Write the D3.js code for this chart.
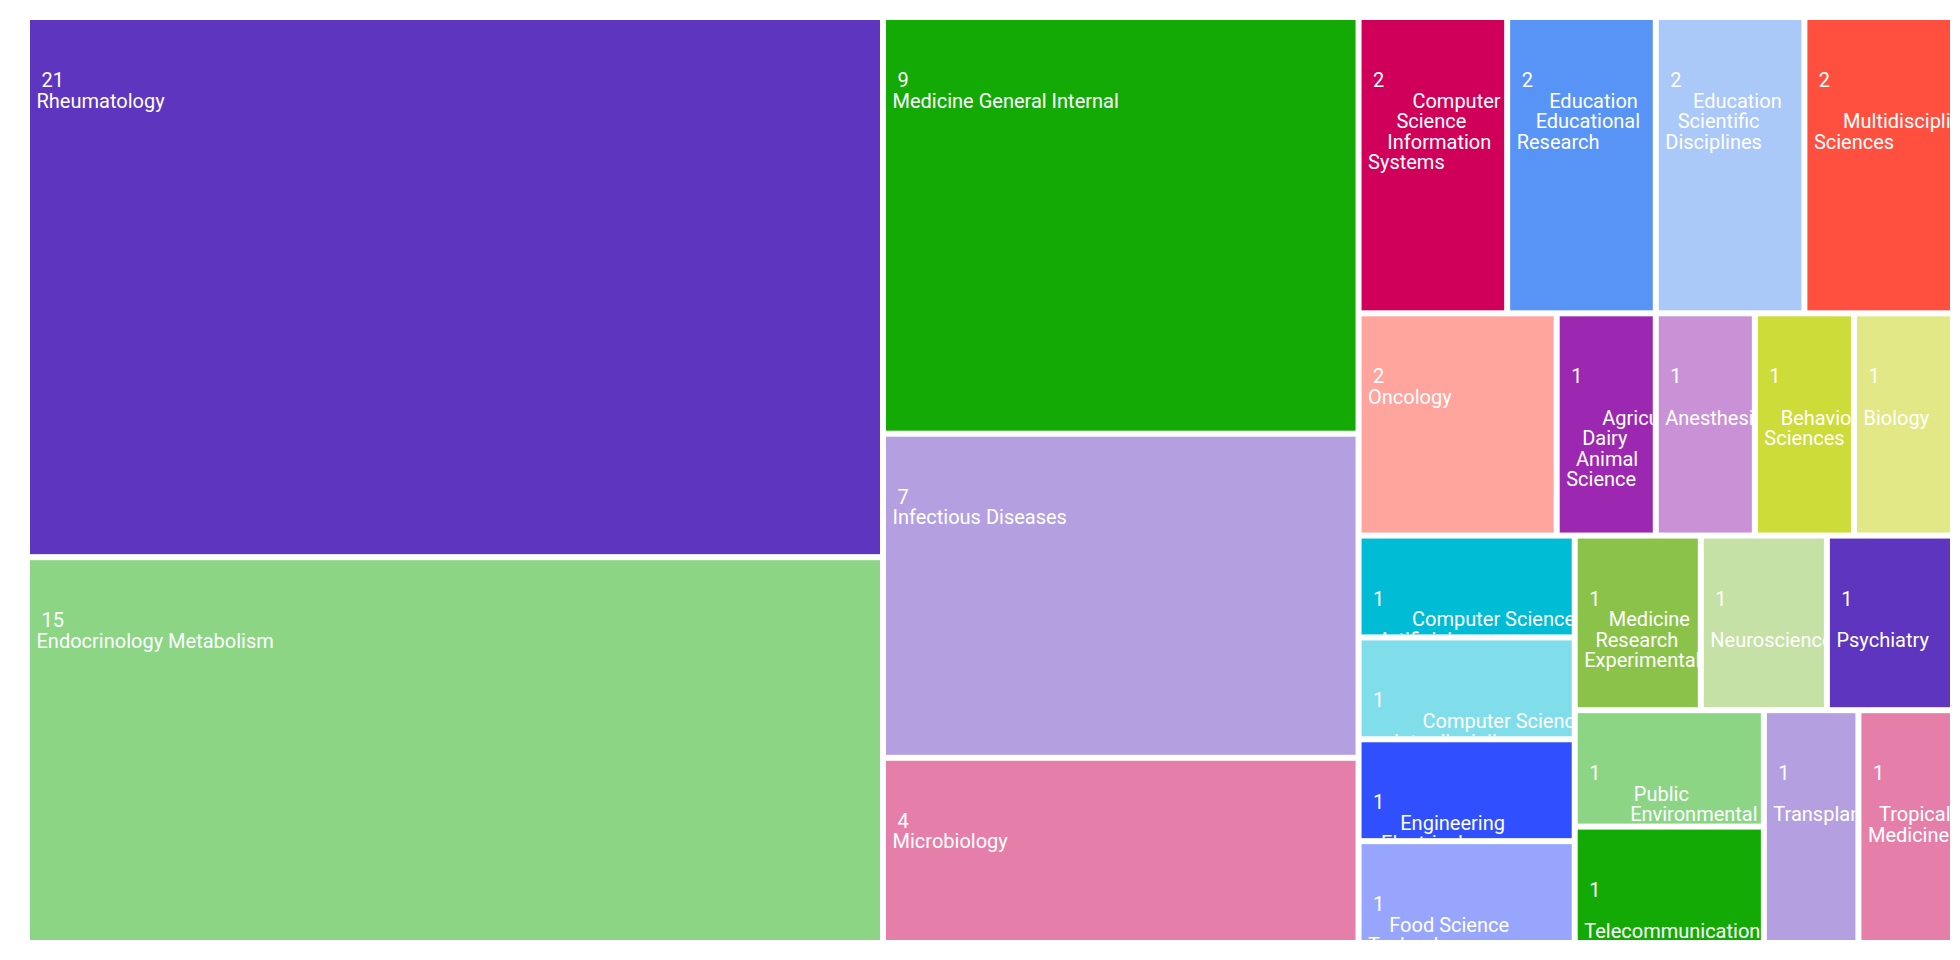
<!DOCTYPE html>
<html>
<head>
<meta charset="utf-8">
<script src="https://cdn.jsdelivr.net/npm/d3@7"></script>
<style>
  html, body { margin: 0; padding: 0; background: #ffffff; }
  svg { display: block; font-family: Roboto, "Noto Sans", sans-serif; }
</style>
</head>
<body>
<svg id="chart" width="1960" height="960"></svg>
<script>
// ---- data ----
const categories = [
  "Rheumatology",
  "Endocrinology Metabolism",
  "Medicine General Internal",
  "Infectious Diseases",
  "Microbiology",
  "Computer Science Information Systems",
  "Education Educational Research",
  "Education Scientific Disciplines",
  "Multidisciplinary Sciences",
  "Oncology",
  "Agriculture Dairy Animal Science",
  "Anesthesiology",
  "Behavioral Sciences",
  "Biology",
  "Computer Science Artificial Intelligence",
  "Computer Science Interdisciplinary Applications",
  "Engineering Electrical Electronic",
  "Food Science Technology",
  "Medicine Research Experimental",
  "Neurosciences",
  "Psychiatry",
  "Public Environmental Occupational Health",
  "Telecommunications",
  "Transplantation",
  "Tropical Medicine"
];
const values = [21, 15, 9, 7, 4, 2, 2, 2, 2, 2, 1, 1, 1, 1, 1, 1, 1, 1, 1, 1, 1, 1, 1, 1, 1];
const palette = [
  "#5e35be", "#8bd585", "#14aa06", "#b4a0e0", "#e57faa",
  "#d0005a", "#5894f5", "#aac8f8", "#ff4f3f", "#ffa59e",
  "#9c27b0", "#ca92d6", "#cddc39", "#e2e886", "#00bcd4",
  "#80deea", "#304ffe", "#97a6fc", "#8bc34a", "#c5e1a5"
];

// ---- layout ----
const margin = { left: 30, top: 20 };
const W = 1920, H = 920;
const fontSize = 20, pad = 6.5, numberY = 67, lineStep = 20.6, wrapOffset = 37.5;

const svg = d3.select("#chart");
const data = { name: "root", children: categories.map((c, i) => ({ name: c, value: values[i], idx: i })) };
const root = d3.hierarchy(data).sum(d => d.children ? 0 : d.value).sort((a, b) => b.value - a.value);
d3.treemap().size([W, H]).paddingInner(6).tile(d3.treemapSquarify)(root);

const color = d3.scaleOrdinal().domain(d3.range(palette.length)).range(palette);

// measuring element
const meas = svg.append("text").attr("font-size", fontSize).attr("visibility", "hidden");
function measure(s) { meas.text(s); return meas.node().getComputedTextLength(); }

function wrapWords(name, width) {
  const words = name.split(/\s+/);
  const lines = [];
  let line = [];
  for (const word of words) {
    line.push(word);
    if (measure(line.join(" ")) > width) {
      line.pop();
      lines.push(line.join(" "));
      line = [word];
    }
  }
  lines.push(line.join(" "));
  return lines;
}

const defs = svg.append("defs");
const leaves = root.leaves();
const cell = svg.append("g").attr("transform", `translate(${margin.left},${margin.top})`)
  .selectAll("g").data(leaves).join("g")
  .attr("transform", d => `translate(${d.x0},${d.y0})`);

cell.append("rect")
  .attr("width", d => d.x1 - d.x0)
  .attr("height", d => d.y1 - d.y0)
  .attr("fill", (d, i) => color(i % palette.length));

defs.selectAll("clipPath").data(leaves).join("clipPath")
  .attr("id", (d, i) => "clip-" + i)
  .append("rect")
  .attr("width", d => d.x1 - d.x0)
  .attr("height", d => d.y1 - d.y0);

cell.each(function (d, i) {
  const g = d3.select(this);
  const w = d.x1 - d.x0;
  const text = g.append("text")
    .attr("clip-path", `url(#clip-${i})`)
    .attr("font-size", fontSize)
    .attr("fill", "#ffffff");
  text.append("tspan").attr("x", pad).attr("y", numberY).text("\u00a0" + d.value);
  const lines = wrapWords(d.data.name, w - wrapOffset);
  const widths = lines.map(l => l ? measure(l) : 0);
  const lefts = new Array(lines.length);
  lefts[lines.length - 1] = pad;
  for (let k = lines.length - 2; k >= 0; k--) {
    lefts[k] = lefts[k + 1] + 0.242 * widths[k] - 0.076 * widths[k + 1];
  }
  lines.forEach((l, k) => {
    text.append("tspan").attr("x", lefts[k]).attr("y", numberY + lineStep * (k + 1)).text(l);
  });
});
meas.remove();
</script>
</body>
</html>
